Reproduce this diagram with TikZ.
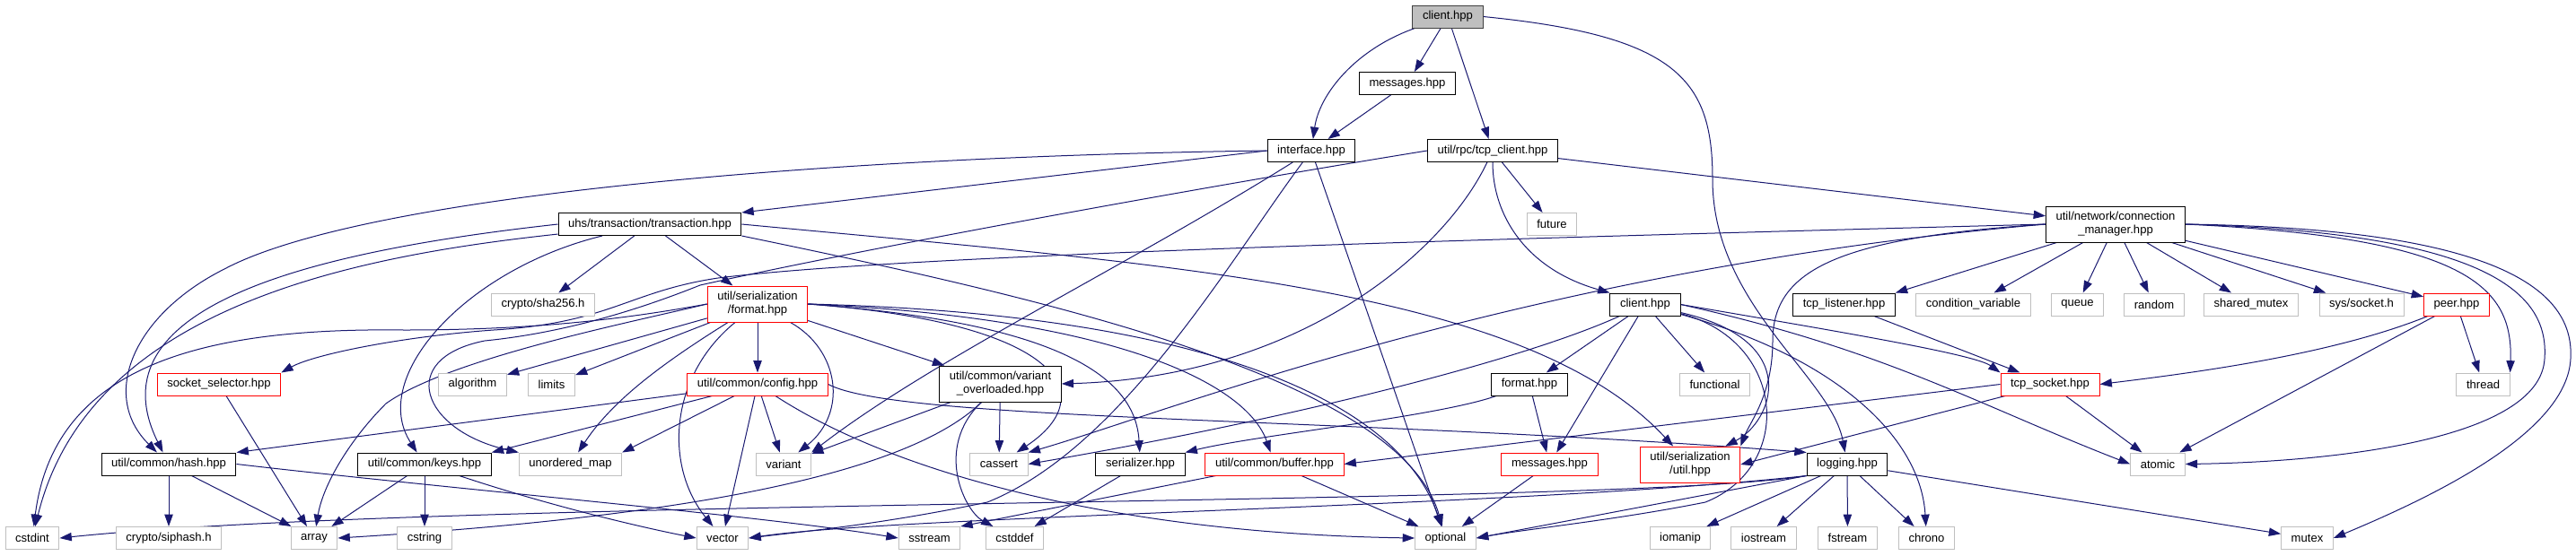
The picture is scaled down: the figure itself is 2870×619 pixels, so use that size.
\documentclass[tikz,border=0pt]{standalone}
\usepackage{fontspec}
\setmainfont{Liberation Sans}
\usetikzlibrary{arrows.meta,backgrounds}
\definecolor{linkblue}{HTML}{191970}
\definecolor{boxgray}{HTML}{BFBFBF}
\definecolor{missingred}{HTML}{FF0000}

\begin{document}
\begin{tikzpicture}[
    x=0.75pt, y=-0.75pt,
    >={Triangle[length=10pt,width=7pt]},
    file/.style={rectangle, draw, fill=white, line width=0.75pt, inner xsep=8.3pt, inner ysep=0pt,
        minimum height=18.75pt, align=center, font=\fontsize{9.8pt}{11.25pt}\selectfont},
    header/.style={file, draw=black},
    missing/.style={file, draw=missingred},
    system/.style={file, draw=boxgray},
    current/.style={file, draw=black!75, fill=boxgray},
    tall/.style={minimum height=30pt},
    incl/.style={->, draw=linkblue, line width=0.75pt}
]
\useasboundingbox (0,0) rectangle (2870,619);

% Top files
\node[current] (root) at (1613,18.5) {client.hpp};
\node[header] (msgA) at (1568,93) {messages.hpp};
\node[header] (iface) at (1461,168) {interface.hpp};
\node[header] (tcpc) at (1663,168) {util/rpc/tcp\_client.hpp};
\node[header] (tx) at (724,250) {uhs/transaction/transaction.hpp};
\node[system] (future) at (1729,250) {future};
\node[header,tall] (cm) at (2357,250) {util/network/connection\\\_manager.hpp};

% Second row
\node[system] (sha) at (605,339.5) {crypto/sha256.h};
\node[missing,tall] (fmt) at (844,339) {util/serialization\\/format.hpp};
\node[header] (cli) at (1833,339.5) {client.hpp};
\node[header] (tcpl) at (2054.5,339.5) {tcp\_listener.hpp};
\node[system] (condv) at (2198.5,339.5) {condition\_variable};
\node[system] (queue) at (2314.5,339.5) {queue};
\node[system] (random) at (2400,339.5) {random};
\node[system] (shmtx) at (2508,339.5) {shared\_mutex};
\node[system] (syssock) at (2631,339.5) {sys/socket.h};
\node[missing] (peer) at (2737,339.5) {peer.hpp};

% Third row
\node[missing] (sel) at (244,428.5) {socket\_selector.hpp};
\node[system] (algo) at (526.5,428.5) {algorithm};
\node[system] (limits) at (614.5,428.5) {limits};
\node[missing] (cfg) at (844,428.5) {util/common/config.hpp};
\node[header,tall] (vo) at (1114.5,428) {util/common/variant\\\_overloaded.hpp};
\node[header] (fmtr) at (1704,428.5) {format.hpp};
\node[system] (func) at (1910.5,428.5) {functional};
\node[missing] (tsock) at (2284,428.5) {tcp\_socket.hpp};
\node[system] (thread) at (2766.5,428.5) {thread};

% Fourth row
\node[header] (hash) at (188,517.5) {util/common/hash.hpp};
\node[header] (keys) at (473,517.5) {util/common/keys.hpp};
\node[system] (umap) at (635.5,517.5) {unordered\_map};
\node[system] (variant) at (873,517.5) {variant};
\node[system] (cassert) at (1113,517.5) {cassert};
\node[header] (ser) at (1270.5,517.5) {serializer.hpp};
\node[missing] (buf) at (1420,517.5) {util/common/buffer.hpp};
\node[missing] (msgB) at (1726.5,517.5) {messages.hpp};
\node[missing,tall] (sutil) at (1883,518) {util/serialization\\/util.hpp};
\node[header] (log) at (2058,517.5) {logging.hpp};
\node[system] (atomic) at (2404,517.5) {atomic};

% Bottom row
\node[system] (cstdint) at (36,600) {cstdint};
\node[system] (siphash) at (188,600) {crypto/siphash.h};
\node[system] (array) at (350,600) {array};
\node[system] (cstring) at (473,600) {cstring};
\node[system] (vector) at (805,600) {vector};
\node[system] (sstream) at (1035.5,600) {sstream};
\node[system] (cstddef) at (1130.5,600) {cstddef};
\node[system] (optional) at (1610.5,600) {optional};
\node[system] (iomanip) at (1872,600) {iomanip};
\node[system] (iostream) at (1965,600) {iostream};
\node[system] (fstream) at (2058.5,600) {fstream};
\node[system] (chrono) at (2146.5,600) {chrono};
\node[system] (mutex) at (2570.5,600) {mutex};

\begin{scope}[on background layer]
% client.hpp
\draw[incl] (root) .. controls (1510,55) and (1470,105) .. (iface);
\draw[incl] (root) to (msgA);
\draw[incl] (root) to (tcpc);
\draw[incl] (root.east) .. controls (1870,40) and (1908,90) .. (1908,200) .. controls (1908,340) and (2040,420) .. (log);
\draw[incl] (msgA) to (iface);

% interface.hpp
\draw[incl] (iface.west) to (tx.north east);
\draw[incl] (iface.west) .. controls (900,175) and (400,220) .. (250,300) .. controls (150,350) and (110,440) .. (hash);
\draw[incl] (iface) .. controls (1250,300) and (1040,400) .. (variant.north east);
\draw[incl] (iface) .. controls (1370,290) and (1250,500) .. (1100,560) .. controls (980,585) and (900,592) .. (vector.east);
\draw[incl] (iface) to (optional);

% util/rpc/tcp_client.hpp
\draw[incl] (tcpc) to (future);
\draw[incl] (tcpc) to (cm);
\draw[incl] (tcpc) .. controls (1663,240) and (1700,300) .. (cli.north west);
\draw[incl] (tcpc.west) .. controls (1300,215) and (950,280) .. (780,318) .. controls (700,350) and (620,372) .. (540,380) .. controls (440,400) and (470,480) .. (umap.north west);
\draw[incl] (tcpc) .. controls (1610,280) and (1450,420) .. (vo.east);

% uhs/transaction/transaction.hpp
\draw[incl] (tx) to (sha);
\draw[incl] (tx) to (fmt);
\draw[incl] (tx) .. controls (520,300) and (410,420) .. (keys);
\draw[incl] (tx.west) .. controls (350,280) and (100,340) .. (hash);
\draw[incl] (tx) .. controls (400,285) and (100,340) .. (cstdint);
\draw[incl] (tx.south east) .. controls (1150,330) and (1560,420) .. (optional);
\draw[incl] (tx.east) .. controls (1300,295) and (1700,320) .. (sutil);

% util/serialization/format.hpp
\draw[incl] (fmt) to (cfg);
\draw[incl] (fmt) to (vo);
\draw[incl] (fmt) .. controls (935,390) and (945,460) .. (variant);
\draw[incl] (fmt) .. controls (745,420) and (740,520) .. (vector);
\draw[incl] (fmt.east) .. controls (1180,360) and (1230,440) .. (cassert);
\draw[incl] (fmt.east) .. controls (1180,360) and (1265,420) .. (ser);
\draw[incl] (fmt.east) .. controls (1250,355) and (1390,430) .. (buf);
\draw[incl] (fmt.east) .. controls (1350,350) and (1560,450) .. (optional);
\draw[incl] (fmt) to (algo);
\draw[incl] (fmt) to (limits);
\draw[incl] (fmt) .. controls (730,410) and (680,450) .. (umap);
\draw[incl] (fmt.west) .. controls (700,360) and (500,400) .. (430,450) .. controls (390,490) and (360,540) .. (array);
\draw[incl] (fmt.west) .. controls (700,355) and (600,368) .. (450,368) .. controls (220,365) and (60,410) .. (cstdint);

% util/common/config.hpp
\draw[incl] (cfg) to (hash.north east);
\draw[incl] (cfg) to (keys.north east);
\draw[incl] (cfg) to (umap.north east);
\draw[incl] (cfg) to (variant);
\draw[incl] (cfg) to (vector);
\draw[incl] (cfg) .. controls (1000,530) and (1250,595) .. (optional.west);
\draw[incl] (cfg.east) .. controls (1000,470) and (1500,465) .. (log.north west);

% util/common/variant_overloaded.hpp
\draw[incl] (vo) to (variant);
\draw[incl] (vo) to (cassert);
\draw[incl] (vo) .. controls (1040,500) and (1075,570) .. (cstddef);
\draw[incl] (vo) .. controls (1000,540) and (700,580) .. (array.east);

% client.hpp (rpc)
\draw[incl] (cli) to (fmtr);
\draw[incl] (cli) to (msgB);
\draw[incl] (cli) to (func);
\draw[incl] (cli) .. controls (2010,380) and (1975,470) .. (sutil);
\draw[incl] (cli) .. controls (1990,380) and (2000,520) .. (1900,560) .. controls (1800,580) and (1700,590) .. (optional.east);
\draw[incl] (cli) .. controls (2050,400) and (2140,490) .. (chrono);
\draw[incl] (cli.east) .. controls (2100,390) and (2200,450) .. (atomic.west);
\draw[incl] (cli.east) .. controls (2050,370) and (2200,395) .. (tsock.north west);
\draw[incl] (cli) .. controls (1700,400) and (1450,465) .. (cassert.east);

% format.hpp, messages.hpp, buffer, serializer
\draw[incl] (fmtr) to (msgB);
\draw[incl] (fmtr) .. controls (1600,465) and (1400,485) .. (ser.north east);
\draw[incl] (msgB) to (optional);
\draw[incl] (buf) to (optional);
\draw[incl] (buf) to (sstream.north east);
\draw[incl] (ser) to (cstddef);

% hash, keys, socket selector
\draw[incl] (hash) to (siphash);
\draw[incl] (hash) to (array);
\draw[incl] (hash.east) .. controls (500,545) and (850,575) .. (sstream.west);
\draw[incl] (keys) to (array);
\draw[incl] (keys) to (cstring);
\draw[incl] (keys) .. controls (600,560) and (700,585) .. (vector.west);
\draw[incl] (sel) to (array);

% logging.hpp
\draw[incl] (log) to (iomanip);
\draw[incl] (log) to (iostream);
\draw[incl] (log) to (fstream);
\draw[incl] (log) to (chrono);
\draw[incl] (log) to (mutex);
\draw[incl] (log.south west) to (optional.east);
\draw[incl] (log.south west) .. controls (1800,565) and (500,555) .. (cstdint.east);
\draw[incl] (log.south west) .. controls (1700,565) and (1000,575) .. (vector.east);

% tcp_socket, tcp_listener, peer
\draw[incl] (tsock.west) to (buf.east);
\draw[incl] (tsock) to (sutil.east);
\draw[incl] (tsock) to (atomic);
\draw[incl] (tcpl) to (tsock);
\draw[incl] (peer) .. controls (2600,395) and (2450,415) .. (tsock.east);
\draw[incl] (peer) to (atomic);
\draw[incl] (peer) to (thread);

% util/network/connection_manager.hpp
\draw[incl] (cm) to (tcpl.north east);
\draw[incl] (cm) to (condv);
\draw[incl] (cm) to (queue);
\draw[incl] (cm) to (random);
\draw[incl] (cm) to (shmtx);
\draw[incl] (cm) to (syssock);
\draw[incl] (cm) to (peer);
\draw[incl] (cm.east) .. controls (2750,265) and (2800,320) .. (thread.north east);
\draw[incl] (cm.east) .. controls (2780,260) and (2840,330) .. (2835,400) .. controls (2830,490) and (2600,515) .. (atomic.east);
\draw[incl] (cm.east) .. controls (2800,255) and (2868,330) .. (2864,400) .. controls (2860,480) and (2720,550) .. (mutex.east);
\draw[incl] (cm.west) .. controls (1600,268) and (1000,285) .. (800,310) .. controls (700,325) and (680,360) .. (550,368) .. controls (450,375) and (350,395) .. (sel.north east);
\draw[incl] (cm.west) .. controls (1700,300) and (1300,460) .. (cassert.north east);
\draw[incl] (cm.west) .. controls (2050,265) and (1975,300) .. (1975,380) .. controls (1975,440) and (1950,470) .. (sutil.north east);
\end{scope}

\end{tikzpicture}
\end{document}
